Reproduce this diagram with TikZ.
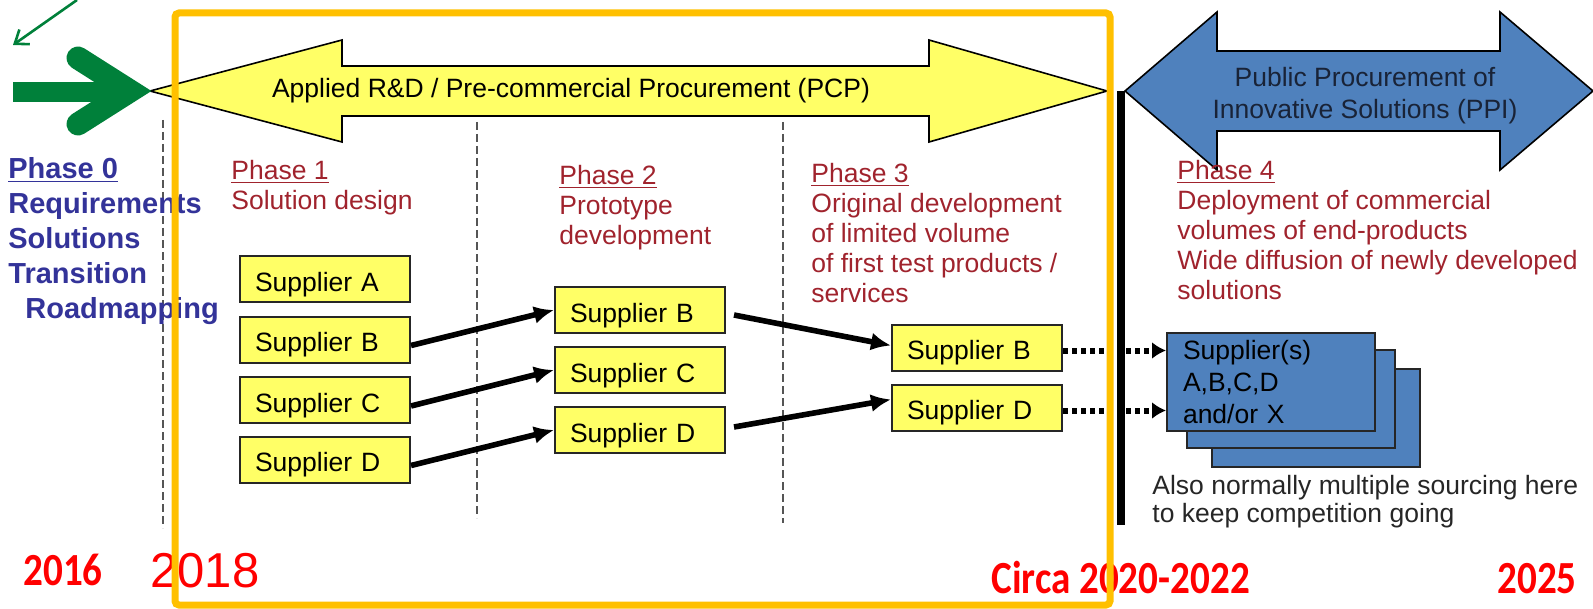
\documentclass[tikz,border=0pt]{standalone}
\usepackage{graphicx}
\usepackage{fontspec}
\setmainfont{Liberation Sans}
\newfontfamily\yearfont{Carlito}
\usetikzlibrary{arrows.meta}

\definecolor{boxyellow}{RGB}{255,255,102}
\definecolor{ppiblue}{RGB}{79,129,189}
\definecolor{ppitext}{RGB}{25,35,55}
\definecolor{phasered}{RGB}{160,35,45}
\definecolor{phaseblue}{RGB}{51,51,153}
\definecolor{arrowgreen}{RGB}{0,128,58}
\definecolor{frameorange}{RGB}{255,192,0}
\definecolor{dashgray}{RGB}{85,85,85}

\begin{document}
\begin{tikzpicture}[x=0.5pt, y=-0.5pt]
	\tikzstyle{supplier} = [draw=black!85, line width=1pt, fill=boxyellow, anchor=west, minimum width=85pt, minimum height=23pt, inner xsep=7.5pt, text width=70pt, text height=12pt, text depth=0pt, align=left, font=\fontsize{13.25}{15}\selectfont]
	\tikzstyle{phase}    = [anchor=north west, inner sep=0pt, align=left, text=phasered, font=\fontsize{13.25}{15}\selectfont]
	\tikzstyle{stack}    = [draw=black!85, line width=1pt, fill=ppiblue, anchor=north west, minimum width=104pt, minimum height=49pt]
	\tikzstyle{flow}     = [line width=2.8pt, -{Latex[length=10pt,width=9pt]}]
	\tikzstyle{handover} = [line width=3pt, dash pattern=on 2.5pt off 2pt, -{Latex[length=7pt,width=8.5pt]}]
	\tikzstyle{year}     = [anchor=base west, inner sep=0pt, text=red, font=\yearfont\bfseries\fontsize{23}{23}\selectfont]
	\tikzstyle{divider}  = [dashgray, line width=1pt, dash pattern=on 4pt off 2pt]

	\useasboundingbox (0,0) rectangle (1593,609);

	% phase dividers
	\foreach \x/\top/\bot in {163/120/528, 477/122/518, 783/122/523}
		\draw[divider] (\x,\top) -- (\x,\bot);

	% big double arrows
	\draw[line width=0.8pt, fill=boxyellow] (150,91) -- (342,40) -- (342,66) -- (929,66) -- (929,40) -- (1107,91)
		-- (929,142) -- (929,116) -- (342,116) -- (342,142) -- cycle;
	\node[font=\fontsize{13.25}{15}\selectfont] (pcp) at (571,91) {Applied R\&D / Pre-commercial Procurement (PCP)};

	\draw[line width=0.8pt, fill=ppiblue] (1125,91) -- (1217,12) -- (1217,51) -- (1500,51) -- (1500,12) -- (1593,91)
		-- (1500,170) -- (1500,131) -- (1217,131) -- (1217,170) -- cycle;
	\node[align=center, text=ppitext, font=\fontsize{13.25}{16}\selectfont] (ppi) at (1365,96) {Public Procurement of\\Innovative Solutions (PPI)};

	\coordinate (pcp tip) at (1121,91);
	\coordinate (bar end) at (1121,525);
	\draw[line width=4pt] (pcp tip) -- (bar end);

	% green arrows
	\coordinate (green start) at (13,92);
	\coordinate (green end) at (132,92);
	\draw[arrowgreen, line width=10pt] (green start) -- (green end);
	\draw[arrowgreen, line width=11.5pt, line cap=round, line join=miter] (78,58) -- (130,91) -- (78,124);

	\coordinate (hint from) at (77,0);
	\coordinate (hint to) at (13,45);
	\draw[arrowgreen, line width=1.3pt, -{Straight Barb[length=6pt,width=9pt]}] (hint from) -- (hint to);

	% phase texts
	\node[anchor=north west, inner sep=0pt, align=left, text=phaseblue, font=\bfseries\fontsize{14.5}{17.5}\selectfont] (ph0) at (8,157)
		{\underline{Phase 0}\\Requirements\\Solutions\\Transition\\\hspace*{8.5pt}Roadmapping};
	\node[phase] (ph1) at (231,160) {\underline{Phase 1}\\Solution design};
	\node[phase] (ph2) at (559,165) {\underline{Phase 2}\\Prototype\\development};
	\node[phase] (ph3) at (811,163) {\underline{Phase 3}\\Original development\\of limited volume\\of first test products /\\services};
	\node[phase] (ph4) at (1177,160) {\underline{Phase 4}\\Deployment of commercial\\volumes of end-products\\Wide diffusion of newly developed\\solutions};

	% suppliers
	\foreach \name/\x/\y/\who in {p1a/239/279/A, p1b/239/339.5/B, p1c/239/400/C, p1d/239/459.5/D,
			p2b/554/310/B, p2c/554/370/C, p2d/554/430/D, p3b/891/347.5/B, p3d/891/407.5/D}
		\node[supplier] (\name) at (\x,\y) {Supplier \who};

	\foreach \from/\to in {p1b/p2b, p1c/p2c, p1d/p2d}
		\draw[flow] ([yshift=-3pt]\from.east) -- (\to.west);
	\draw[flow] ([xshift=4pt,yshift=-2.5pt]p2b.east) -- ([yshift=1pt]p3b.west);
	\draw[flow] ([xshift=4pt,yshift=1.5pt]p2d.east) -- ([yshift=4pt]p3d.west);

	% deployment stack
	\node[stack] (back) at (1211,368) {};
	\node[stack] (middle) at (1186,349) {};
	\node[stack, text width=88pt, inner xsep=8pt, align=left, font=\fontsize{13.25}{16}\selectfont] (front) at (1166,332)
		{Supplier(s)\\A,B,C,D\\and/or X};

	\foreach \from in {p3b, p3d}
		\draw[handover] ([yshift=-1.5pt]\from.east) -- ([yshift=-1.5pt]\from.east -| front.west);

	\node[anchor=north west, inner sep=0pt, align=left, text=black!85, font=\fontsize{13.25}{14}\selectfont] (note) at (1152,475)
		{Also normally multiple sourcing here\\to keep competition going};

	% years
	\node[year] (y2016) at (23,585) {\scalebox{0.85}[1]{2016}};
	\node[anchor=base west, inner sep=0pt, text=red, font=\fontsize{24.5}{24.5}\selectfont] (y2018) at (150,587) {2018};
	\node[year] (y2020) at (991,593) {\scalebox{0.85}[1]{Circa 2020-2022}};
	\node[year, anchor=base east] (y2025) at (1577,593) {\scalebox{0.85}[1]{2025}};

	\draw[frameorange, line width=3.5pt, rounded corners=2pt] (175,13) rectangle (1110,605);
\end{tikzpicture}
\end{document}
